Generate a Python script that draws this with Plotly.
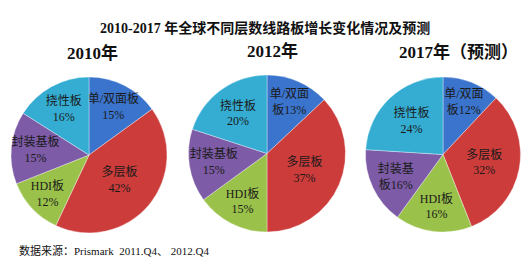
import plotly.graph_objects as go

# Board types (clockwise from 12 o'clock)
categories = ["单/双面板", "多层板", "HDI板", "封装基板", "挠性板"]
colors = ["#3A74CC", "#CC3C3B", "#9AC24A", "#7D5BA6", "#35ADD3"]

share_2010 = [15, 42, 12, 15, 16]
share_2012 = [13, 37, 15, 15, 20]
share_2017 = [12, 32, 16, 16, 24]

# Label name parts as they wrap inside each slice
names_2010 = [("单/双面板", ""), ("多层板", ""), ("HDI板", ""), ("封装基板", ""), ("挠性板", "")]
names_2012 = [("单/双面", "板"), ("多层板", ""), ("HDI板", ""), ("封装基板", ""), ("挠性板", "")]
names_2017 = [("单/双面", "板"), ("多层板", ""), ("HDI板", ""), ("封装基", "板"), ("挠性板", "")]

panel_titles = ["2010年", "2012年", "2017年（预测）"]

W, H = 523, 261
font_main = "Liberation Serif, Noto Sans CJK SC, serif"


def make_text(names, values):
    return [f"{a}<br>{b}{v}%" for (a, b), v in zip(names, values)]


# pie boxes in pixel space: (center_x, center_y, radius)
boxes = [(89, 155, 78), (267, 153.5, 78.5), (443, 154.5, 77.5)]

fig = go.Figure()
for (cx, cy, r), vals, names in zip(
    boxes, [share_2010, share_2012, share_2017], [names_2010, names_2012, names_2017]
):
    fig.add_trace(
        go.Pie(
            labels=categories,
            values=vals,
            text=make_text(names, vals),
            textinfo="text",
            textposition="inside",
            insidetextorientation="horizontal",
            textfont=dict(family=font_main, size=12, color="#1a1a1a"),
            marker=dict(colors=colors, line=dict(color="rgba(255,255,255,0.6)", width=0.6)),
            sort=False,
            direction="clockwise",
            rotation=0,
            hoverinfo="label+percent",
            domain=dict(
                x=[(cx - r) / W, (cx + r) / W],
                y=[1 - (cy + r) / H, 1 - (cy - r) / H],
            ),
            showlegend=False,
        )
    )

fig.add_annotation(
    text="<b>2010-2017 年全球不同层数线路板增长变化情况及预测</b>",
    x=265 / W, y=1 - 28 / H, xref="paper", yref="paper",
    xanchor="center", yanchor="middle",
    showarrow=False, font=dict(family=font_main, size=14, color="#111"),
)
# panel headings, left edges in pixels
for t, (x, y) in zip(panel_titles, [(65, 53), (245, 51), (397, 52)]):
    fig.add_annotation(
        text=f"<b>{t}</b>", x=x / W, y=1 - y / H, xref="paper", yref="paper",
        xanchor="left", yanchor="middle",
        showarrow=False, font=dict(family=font_main, size=17, color="#111"),
    )
fig.add_annotation(
    text="数据来源：Prismark  2011.Q4、 2012.Q4",
    x=17 / W, y=1 - 250 / H, xref="paper", yref="paper",
    xanchor="left", yanchor="middle",
    showarrow=False, font=dict(family=font_main, size=11, color="#111"),
)

fig.update_layout(
    width=W, height=H,
    margin=dict(l=0, r=0, t=0, b=0),
    paper_bgcolor="white", plot_bgcolor="white",
    uniformtext=dict(minsize=12, mode="show"),
)
fig.write_html("out.html")
